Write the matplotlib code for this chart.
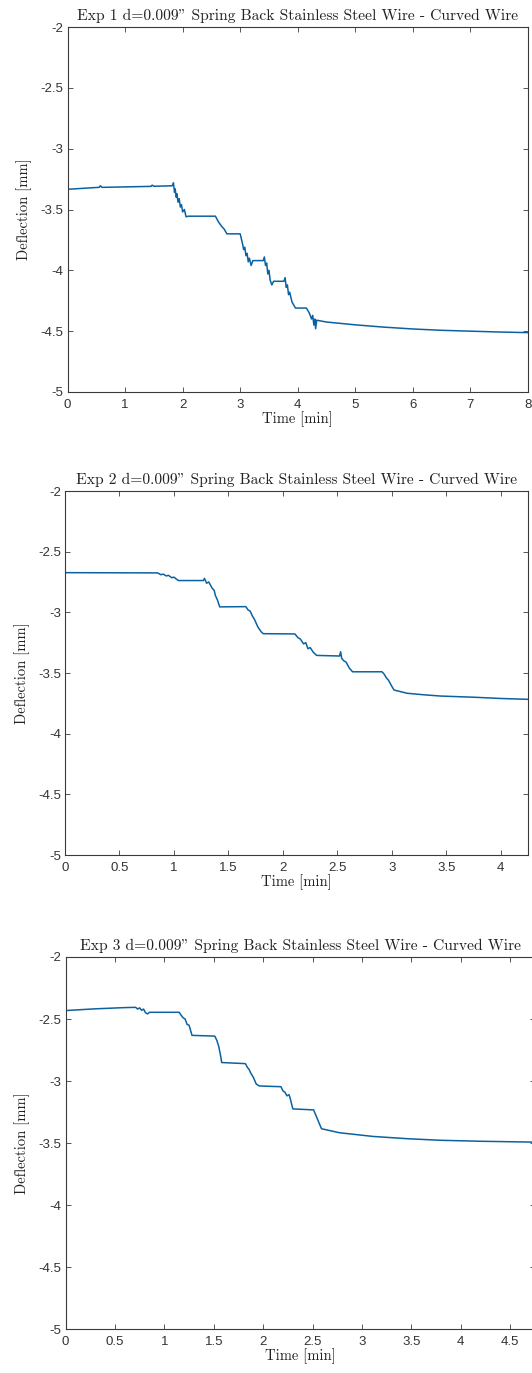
import matplotlib
matplotlib.use("Agg")
import matplotlib.pyplot as plt

# deflection logs, time in minutes, deflection in mm
exp1_t = [0, 0.4, 0.55, 0.57, 0.6, 1.45, 1.47, 1.5, 1.82, 1.84, 1.86, 1.87, 1.89, 1.9,
          1.92, 1.94, 1.96, 1.98, 2.0, 2.03, 2.06, 2.1, 2.57, 2.62, 2.68, 2.72, 2.77,
          2.8, 3.0, 3.04, 3.06, 3.08, 3.1, 3.12, 3.14, 3.16, 3.19, 3.22, 3.4, 3.42,
          3.44, 3.46, 3.48, 3.5, 3.52, 3.55, 3.58, 3.76, 3.78, 3.8, 3.82, 3.84, 3.86,
          3.9, 3.96, 4.15, 4.2, 4.24, 4.26, 4.28, 4.3, 4.31, 4.33, 4.5, 5.0, 5.5, 6.0,
          6.5, 7.0, 7.5, 8.0]
exp1_d = [-3.334, -3.322, -3.318, -3.305, -3.318, -3.31, -3.300, -3.309, -3.305, -3.28,
          -3.36, -3.33, -3.40, -3.37, -3.44, -3.41, -3.48, -3.46, -3.52, -3.50, -3.56,
          -3.555, -3.555, -3.60, -3.64, -3.66, -3.70, -3.70, -3.70, -3.78, -3.83, -3.81,
          -3.88, -3.86, -3.93, -3.90, -3.96, -3.92, -3.92, -3.89, -3.96, -3.94, -4.03,
          -4.00, -4.08, -4.12, -4.09, -4.09, -4.06, -4.14, -4.12, -4.20, -4.18, -4.26,
          -4.31, -4.31, -4.35, -4.40, -4.37, -4.45, -4.40, -4.48, -4.41, -4.425, -4.448,
          -4.467, -4.482, -4.493, -4.50, -4.507, -4.512]

exp2_t = [0, 0.85, 0.88, 0.9, 0.93, 0.95, 0.98, 1.0, 1.04, 1.27, 1.28, 1.3, 1.32, 1.35,
          1.37, 1.38, 1.4, 1.42, 1.66, 1.68, 1.7, 1.72, 1.74, 1.77, 1.8, 1.82, 2.11,
          2.14, 2.16, 2.19, 2.21, 2.23, 2.25, 2.28, 2.31, 2.52, 2.53, 2.54, 2.56, 2.58,
          2.61, 2.64, 2.91, 2.93, 2.95, 2.97, 3.0, 3.02, 3.14, 3.3, 3.45, 3.76, 4.0, 4.25]
exp2_d = [-2.673, -2.675, -2.69, -2.685, -2.70, -2.695, -2.715, -2.71, -2.738, -2.738,
          -2.72, -2.76, -2.75, -2.80, -2.82, -2.86, -2.90, -2.955, -2.953, -2.98, -2.99,
          -3.03, -3.06, -3.12, -3.16, -3.176, -3.178, -3.21, -3.22, -3.26, -3.25, -3.30,
          -3.29, -3.33, -3.355, -3.36, -3.325, -3.38, -3.40, -3.41, -3.46, -3.49, -3.49,
          -3.51, -3.54, -3.56, -3.61, -3.64, -3.667, -3.68, -3.69, -3.70, -3.71, -3.717]

exp3_t = [0, 0.3, 0.6, 0.71, 0.73, 0.75, 0.77, 0.79, 0.81, 0.83, 0.85, 1.15, 1.17, 1.19,
          1.21, 1.23, 1.25, 1.28, 1.51, 1.53, 1.55, 1.57, 1.58, 1.82, 1.84, 1.86, 1.87,
          1.9, 1.93, 1.96, 2.18, 2.2, 2.22, 2.24, 2.26, 2.27, 2.3, 2.51, 2.54, 2.59,
          2.77, 3.11, 3.45, 3.79, 4.2, 4.75]
exp3_d = [-2.432, -2.418, -2.408, -2.406, -2.42, -2.41, -2.43, -2.42, -2.45, -2.459,
          -2.446, -2.446, -2.47, -2.49, -2.50, -2.544, -2.55, -2.632, -2.638, -2.67,
          -2.72, -2.80, -2.851, -2.86, -2.89, -2.91, -2.93, -2.97, -3.025, -3.04, -3.046,
          -3.08, -3.09, -3.12, -3.11, -3.13, -3.225, -3.233, -3.29, -3.385, -3.417,
          -3.447, -3.465, -3.478, -3.486, -3.493]

y_ticks = [-5, -4.5, -4, -3.5, -3, -2.5, -2]
y_labels = ["-5", "-4.5", "-4", "-3.5", "-3", "-2.5", "-2"]
x1_ticks = [0, 1, 2, 3, 4, 5, 6, 7, 8]
x1_labels = ["0", "1", "2", "3", "4", "5", "6", "7", "8"]
x_half_ticks = [0, 0.5, 1, 1.5, 2, 2.5, 3, 3.5, 4, 4.5]
x_half_labels = ["0", "0.5", "1", "1.5", "2", "2.5", "3", "3.5", "4", "4.5"]

titles = ['Exp 1 d=0.009" Spring Back Stainless Steel Wire - Curved Wire',
          'Exp 2 d=0.009" Spring Back Stainless Steel Wire - Curved Wire',
          'Exp 3 d=0.009" Spring Back Stainless Steel Wire - Curved Wire']

plt.rcParams["axes.unicode_minus"] = False

W, H = 532, 1373
fig = plt.figure(figsize=(W / 100, H / 100), dpi=100)

# left, right, top, bottom in pixels
boxes = [(67.5, 528, 27, 392), (65, 528, 491, 855), (65.5, 535, 957, 1329)]
series = [(exp1_t, exp1_d, 8, x1_ticks, x1_labels),
          (exp2_t, exp2_d, 4.25, x_half_ticks[:9], x_half_labels[:9]),
          (exp3_t, exp3_d, 4.75, x_half_ticks, x_half_labels)]

serif = "cmr10"
edge = "#3a3a3a"
for (l, r, t, b), (tt, dd, xmax, xt, xl), title in zip(boxes, series, titles):
    ax = fig.add_axes([l / W, 1 - b / H, (r - l) / W, (b - t) / H])
    ax.plot(tt, dd, color="#0b62a0", lw=1.1)
    ax.set_xlim(0, xmax)
    ax.set_ylim(-5, -2)
    ax.set_xticks(xt)
    ax.set_xticklabels(xl)
    ax.set_yticks(y_ticks)
    ax.set_yticklabels(y_labels)
    ax.tick_params(direction="in", length=3.5, width=0.6, top=True, right=True,
                   colors=edge, labelsize=9.5)
    ax.tick_params(axis="x", pad=5)
    ax.tick_params(axis="y", pad=3)
    for lab in ax.get_xticklabels() + ax.get_yticklabels():
        lab.set_family("Liberation Sans")
        lab.set_color("#333333")
    for s in ax.spines.values():
        s.set_color(edge)
        s.set_linewidth(0.8)
    ax.set_title(title, family=serif, fontsize=11.2, pad=5, color="#222222")
    ax.set_xlabel("Time [min]", family=serif, fontsize=10.5, labelpad=0, color="#222222")
    ax.set_ylabel("Deflection [mm]", family=serif, fontsize=10.5, labelpad=6, color="#222222")

fig.savefig("out.png", dpi=100)
